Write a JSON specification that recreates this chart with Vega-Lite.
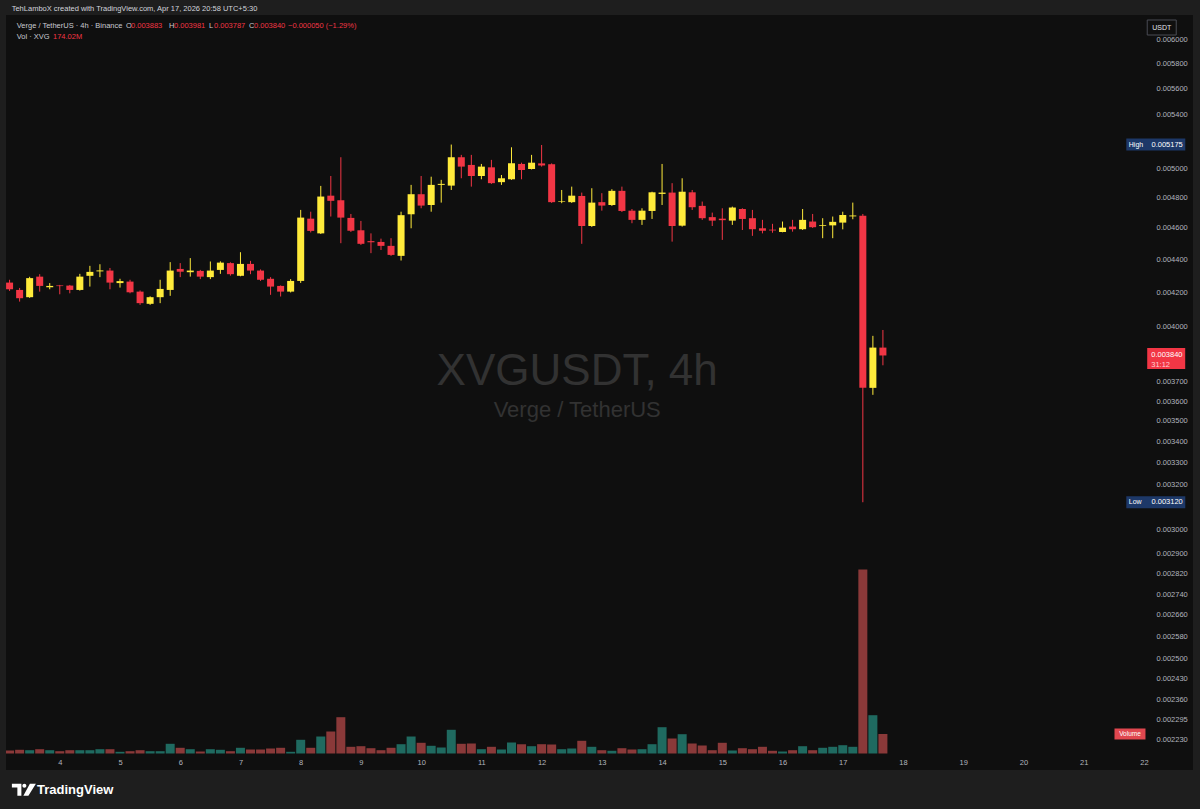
{
"$schema": "https://vega.github.io/schema/vega-lite/v6.json",
"width": 1187, "height": 755,
"autosize": {"type": "none"},
"padding": {"left": 6, "top": 15, "right": 7, "bottom": 39},
"background": "#1e1e1e",
"config": {"view": {"fill": "#0f0f0f", "stroke": null}, "font": "Liberation Sans", "text": {"font": "Liberation Sans"}},
"datasets": {
"candles": [
{"t":"2026-04-03T04:00:00Z","o":0.004257,"h":0.004274,"l":0.004207,"c":0.004217,"v":26.8},
{"t":"2026-04-03T08:00:00Z","o":0.004213,"h":0.004225,"l":0.004144,"c":0.004164,"v":33.0},
{"t":"2026-04-03T12:00:00Z","o":0.004170,"h":0.004292,"l":0.004166,"c":0.004284,"v":29.4},
{"t":"2026-04-03T16:00:00Z","o":0.004293,"h":0.004308,"l":0.004203,"c":0.004237,"v":38.4},
{"t":"2026-04-03T20:00:00Z","o":0.004229,"h":0.004254,"l":0.004217,"c":0.004237,"v":29.4},
{"t":"2026-04-04T00:00:00Z","o":0.004240,"h":0.004243,"l":0.004187,"c":0.004236,"v":20.5},
{"t":"2026-04-04T04:00:00Z","o":0.004239,"h":0.004243,"l":0.004193,"c":0.004213,"v":29.4},
{"t":"2026-04-04T08:00:00Z","o":0.004213,"h":0.004310,"l":0.004209,"c":0.004293,"v":29.4},
{"t":"2026-04-04T12:00:00Z","o":0.004298,"h":0.004359,"l":0.004233,"c":0.004322,"v":29.4},
{"t":"2026-04-04T16:00:00Z","o":0.004325,"h":0.004369,"l":0.004290,"c":0.004331,"v":38.4},
{"t":"2026-04-04T20:00:00Z","o":0.004330,"h":0.004346,"l":0.004217,"c":0.004257,"v":38.4},
{"t":"2026-04-05T00:00:00Z","o":0.004254,"h":0.004280,"l":0.004227,"c":0.004266,"v":15.2},
{"t":"2026-04-05T04:00:00Z","o":0.004263,"h":0.004274,"l":0.004193,"c":0.004199,"v":20.5},
{"t":"2026-04-05T08:00:00Z","o":0.004203,"h":0.004210,"l":0.004125,"c":0.004135,"v":29.4},
{"t":"2026-04-05T12:00:00Z","o":0.004131,"h":0.004175,"l":0.004125,"c":0.004170,"v":20.5},
{"t":"2026-04-05T16:00:00Z","o":0.004170,"h":0.004274,"l":0.004135,"c":0.004219,"v":20.5},
{"t":"2026-04-05T20:00:00Z","o":0.004213,"h":0.004382,"l":0.004178,"c":0.004330,"v":86.5},
{"t":"2026-04-06T00:00:00Z","o":0.004340,"h":0.004376,"l":0.004290,"c":0.004323,"v":50.8},
{"t":"2026-04-06T04:00:00Z","o":0.004320,"h":0.004407,"l":0.004293,"c":0.004330,"v":38.4},
{"t":"2026-04-06T08:00:00Z","o":0.004328,"h":0.004334,"l":0.004278,"c":0.004293,"v":17.8},
{"t":"2026-04-06T12:00:00Z","o":0.004290,"h":0.004386,"l":0.004278,"c":0.004330,"v":38.4},
{"t":"2026-04-06T16:00:00Z","o":0.004334,"h":0.004387,"l":0.004310,"c":0.004379,"v":33.0},
{"t":"2026-04-06T20:00:00Z","o":0.004376,"h":0.004381,"l":0.004299,"c":0.004308,"v":20.5},
{"t":"2026-04-07T00:00:00Z","o":0.004298,"h":0.004444,"l":0.004295,"c":0.004371,"v":50.8},
{"t":"2026-04-07T04:00:00Z","o":0.004371,"h":0.004390,"l":0.004308,"c":0.004330,"v":35.7},
{"t":"2026-04-07T08:00:00Z","o":0.004330,"h":0.004337,"l":0.004267,"c":0.004274,"v":35.7},
{"t":"2026-04-07T12:00:00Z","o":0.004280,"h":0.004290,"l":0.004184,"c":0.004233,"v":44.6},
{"t":"2026-04-07T16:00:00Z","o":0.004237,"h":0.004240,"l":0.004174,"c":0.004203,"v":50.8},
{"t":"2026-04-07T20:00:00Z","o":0.004203,"h":0.004278,"l":0.004198,"c":0.004267,"v":15.2},
{"t":"2026-04-08T00:00:00Z","o":0.004267,"h":0.004718,"l":0.004255,"c":0.004667,"v":122.2},
{"t":"2026-04-08T04:00:00Z","o":0.004660,"h":0.004706,"l":0.004570,"c":0.004580,"v":50.8},
{"t":"2026-04-08T08:00:00Z","o":0.004564,"h":0.004881,"l":0.004560,"c":0.004808,"v":151.6},
{"t":"2026-04-08T12:00:00Z","o":0.004814,"h":0.004950,"l":0.004674,"c":0.004779,"v":196.2},
{"t":"2026-04-08T16:00:00Z","o":0.004783,"h":0.005083,"l":0.004501,"c":0.004667,"v":323.8},
{"t":"2026-04-08T20:00:00Z","o":0.004665,"h":0.004691,"l":0.004573,"c":0.004581,"v":59.8},
{"t":"2026-04-09T00:00:00Z","o":0.004584,"h":0.004645,"l":0.004490,"c":0.004497,"v":65.1},
{"t":"2026-04-09T04:00:00Z","o":0.004514,"h":0.004564,"l":0.004438,"c":0.004507,"v":47.3},
{"t":"2026-04-09T08:00:00Z","o":0.004509,"h":0.004530,"l":0.004458,"c":0.004484,"v":29.4},
{"t":"2026-04-09T12:00:00Z","o":0.004484,"h":0.004533,"l":0.004421,"c":0.004427,"v":50.8},
{"t":"2026-04-09T16:00:00Z","o":0.004421,"h":0.004706,"l":0.004392,"c":0.004683,"v":83.0},
{"t":"2026-04-09T20:00:00Z","o":0.004689,"h":0.004888,"l":0.004597,"c":0.004824,"v":151.6},
{"t":"2026-04-10T00:00:00Z","o":0.004824,"h":0.004950,"l":0.004729,"c":0.004747,"v":95.4},
{"t":"2026-04-10T04:00:00Z","o":0.004751,"h":0.004945,"l":0.004706,"c":0.004888,"v":68.7},
{"t":"2026-04-10T08:00:00Z","o":0.004888,"h":0.004923,"l":0.004767,"c":0.004895,"v":53.5},
{"t":"2026-04-10T12:00:00Z","o":0.004883,"h":0.005175,"l":0.004853,"c":0.005083,"v":211.4},
{"t":"2026-04-10T16:00:00Z","o":0.005083,"h":0.005100,"l":0.004934,"c":0.005016,"v":86.5},
{"t":"2026-04-10T20:00:00Z","o":0.005028,"h":0.005100,"l":0.004876,"c":0.004950,"v":89.2},
{"t":"2026-04-11T00:00:00Z","o":0.004950,"h":0.005035,"l":0.004927,"c":0.005016,"v":38.4},
{"t":"2026-04-11T04:00:00Z","o":0.005011,"h":0.005064,"l":0.004895,"c":0.004900,"v":59.8},
{"t":"2026-04-11T08:00:00Z","o":0.004907,"h":0.004957,"l":0.004888,"c":0.004934,"v":35.7},
{"t":"2026-04-11T12:00:00Z","o":0.004927,"h":0.005155,"l":0.004923,"c":0.005040,"v":98.1},
{"t":"2026-04-11T16:00:00Z","o":0.005035,"h":0.005044,"l":0.004927,"c":0.004992,"v":83.0},
{"t":"2026-04-11T20:00:00Z","o":0.004999,"h":0.005100,"l":0.004996,"c":0.005044,"v":65.1},
{"t":"2026-04-12T00:00:00Z","o":0.005039,"h":0.005172,"l":0.005016,"c":0.005024,"v":83.0},
{"t":"2026-04-12T04:00:00Z","o":0.005033,"h":0.005039,"l":0.004765,"c":0.004770,"v":80.3},
{"t":"2026-04-12T08:00:00Z","o":0.004772,"h":0.004853,"l":0.004763,"c":0.004776,"v":38.4},
{"t":"2026-04-12T12:00:00Z","o":0.004770,"h":0.004876,"l":0.004765,"c":0.004814,"v":44.6},
{"t":"2026-04-12T16:00:00Z","o":0.004812,"h":0.004835,"l":0.004497,"c":0.004612,"v":113.3},
{"t":"2026-04-12T20:00:00Z","o":0.004612,"h":0.004865,"l":0.004606,"c":0.004767,"v":59.8},
{"t":"2026-04-13T00:00:00Z","o":0.004770,"h":0.004831,"l":0.004713,"c":0.004747,"v":29.4},
{"t":"2026-04-13T04:00:00Z","o":0.004751,"h":0.004858,"l":0.004745,"c":0.004847,"v":24.1},
{"t":"2026-04-13T08:00:00Z","o":0.004847,"h":0.004876,"l":0.004704,"c":0.004711,"v":47.3},
{"t":"2026-04-13T12:00:00Z","o":0.004713,"h":0.004724,"l":0.004630,"c":0.004652,"v":35.7},
{"t":"2026-04-13T16:00:00Z","o":0.004652,"h":0.004729,"l":0.004619,"c":0.004713,"v":38.4},
{"t":"2026-04-13T20:00:00Z","o":0.004711,"h":0.004841,"l":0.004658,"c":0.004837,"v":83.0},
{"t":"2026-04-14T00:00:00Z","o":0.004826,"h":0.005035,"l":0.004751,"c":0.004835,"v":234.6},
{"t":"2026-04-14T04:00:00Z","o":0.004835,"h":0.004900,"l":0.004511,"c":0.004612,"v":133.8},
{"t":"2026-04-14T08:00:00Z","o":0.004614,"h":0.004934,"l":0.004608,"c":0.004841,"v":172.2},
{"t":"2026-04-14T12:00:00Z","o":0.004837,"h":0.004853,"l":0.004718,"c":0.004736,"v":89.2},
{"t":"2026-04-14T16:00:00Z","o":0.004745,"h":0.004774,"l":0.004652,"c":0.004663,"v":71.4},
{"t":"2026-04-14T20:00:00Z","o":0.004670,"h":0.004700,"l":0.004612,"c":0.004647,"v":29.4},
{"t":"2026-04-15T00:00:00Z","o":0.004660,"h":0.004729,"l":0.004522,"c":0.004650,"v":95.4},
{"t":"2026-04-15T04:00:00Z","o":0.004647,"h":0.004740,"l":0.004619,"c":0.004734,"v":26.8},
{"t":"2026-04-15T08:00:00Z","o":0.004724,"h":0.004729,"l":0.004586,"c":0.004658,"v":47.3},
{"t":"2026-04-15T12:00:00Z","o":0.004663,"h":0.004718,"l":0.004548,"c":0.004591,"v":38.4},
{"t":"2026-04-15T16:00:00Z","o":0.004597,"h":0.004652,"l":0.004564,"c":0.004581,"v":59.8},
{"t":"2026-04-15T20:00:00Z","o":0.004588,"h":0.004626,"l":0.004568,"c":0.004583,"v":24.1},
{"t":"2026-04-16T00:00:00Z","o":0.004573,"h":0.004641,"l":0.004571,"c":0.004601,"v":17.8},
{"t":"2026-04-16T04:00:00Z","o":0.004608,"h":0.004652,"l":0.004575,"c":0.004591,"v":29.4},
{"t":"2026-04-16T08:00:00Z","o":0.004591,"h":0.004724,"l":0.004586,"c":0.004652,"v":65.1},
{"t":"2026-04-16T12:00:00Z","o":0.004641,"h":0.004691,"l":0.004599,"c":0.004604,"v":29.4},
{"t":"2026-04-16T16:00:00Z","o":0.004612,"h":0.004663,"l":0.004533,"c":0.004617,"v":50.8},
{"t":"2026-04-16T20:00:00Z","o":0.004616,"h":0.004674,"l":0.004533,"c":0.004639,"v":59.8},
{"t":"2026-04-17T00:00:00Z","o":0.004634,"h":0.004706,"l":0.004590,"c":0.004684,"v":74.0},
{"t":"2026-04-17T04:00:00Z","o":0.004675,"h":0.004767,"l":0.004656,"c":0.004681,"v":59.8},
{"t":"2026-04-17T08:00:00Z","o":0.004679,"h":0.004691,"l":0.003120,"c":0.003668,"v":1641.3},
{"t":"2026-04-17T12:00:00Z","o":0.003668,"h":0.003948,"l":0.003632,"c":0.003883,"v":341.6},
{"t":"2026-04-17T16:00:00Z","o":0.003883,"h":0.003981,"l":0.003787,"c":0.003840,"v":174.02}
]
},
"layer": [
{
"layer": [
{"data": {"name": "candles"}, "mark": {"type": "bar", "size": 9, "clip": true},
 "encoding": {
  "x": {"field": "t", "type": "temporal",
   "scale": {"type": "utc", "domain": [{"year":2026,"month":4,"date":3,"hours":4,"minutes":34,"utc":true},{"year":2026,"month":4,"date":22,"hours":17,"minutes":34,"utc":true}]},
   "axis": {"orient": "bottom", "offset": -17, "title": null, "grid": false, "ticks": false, "domain": false,
    "values": [{"year":2026,"month":4,"date":4,"utc":true},{"year":2026,"month":4,"date":5,"utc":true},{"year":2026,"month":4,"date":6,"utc":true},{"year":2026,"month":4,"date":7,"utc":true},{"year":2026,"month":4,"date":8,"utc":true},{"year":2026,"month":4,"date":9,"utc":true},{"year":2026,"month":4,"date":10,"utc":true},{"year":2026,"month":4,"date":11,"utc":true},{"year":2026,"month":4,"date":12,"utc":true},{"year":2026,"month":4,"date":13,"utc":true},{"year":2026,"month":4,"date":14,"utc":true},{"year":2026,"month":4,"date":15,"utc":true},{"year":2026,"month":4,"date":16,"utc":true},{"year":2026,"month":4,"date":17,"utc":true},{"year":2026,"month":4,"date":18,"utc":true},{"year":2026,"month":4,"date":19,"utc":true},{"year":2026,"month":4,"date":20,"utc":true},{"year":2026,"month":4,"date":21,"utc":true},{"year":2026,"month":4,"date":22,"utc":true}],
    "labelExpr": "utcFormat(datum.value, '%-d')", "labelColor": "#b2b5be", "labelFontSize": 7.5, "labelPadding": 5, "labelOverlap": false, "labelFlush": false, "labelFont": "Liberation Sans"}},
  "y": {"field": "v", "type": "quantitative", "scale": {"domain": [-147.2, 6587.6], "nice": false, "zero": false}, "axis": null},
  "y2": {"datum": 0},
  "color": {"condition": {"test": "datum.c >= datum.o", "value": "#1f6a60"}, "value": "#8a3939"}
 }},
{"data": {"values": [{"label": "Volume", "v": 174.02}]},
 "mark": {"type": "point", "shape": "M-1,-0.355H1V0.355H-1Z", "size": 961, "filled": true, "fill": "#e0474f", "opacity": 1, "strokeWidth": 0},
 "encoding": {"x": {"datum": {"year":2026,"month":4,"date":21,"hours":18,"minutes":27,"utc":true}, "type": "temporal"}, "y": {"field": "v", "type": "quantitative"}}},
{"data": {"values": [{"label": "Volume", "v": 174.02}]},
 "mark": {"type": "text", "fontSize": 6.5, "color": "#ffffff", "baseline": "middle"},
 "encoding": {"x": {"datum": {"year":2026,"month":4,"date":21,"hours":18,"minutes":27,"utc":true}, "type": "temporal"}, "y": {"field": "v", "type": "quantitative"}, "text": {"field": "label"}}}
]
},
{
"layer": [
{"data": {"values": [{"txt": "XVGUSDT, 4h", "p": 0.0037523}]},
 "mark": {"type": "text", "fontSize": 44, "color": "#323232", "baseline": "middle", "align": "center"},
 "encoding": {"x": {"datum": {"year":2026,"month":4,"date":12,"hours":14,"minutes":11,"utc":true}, "type": "temporal"}, "y": {"field": "p", "type": "quantitative"}, "text": {"field": "txt"}}},
{"data": {"values": [{"txt": "Verge / TetherUS", "p": 0.003556}]},
 "mark": {"type": "text", "fontSize": 22, "color": "#323232", "baseline": "middle", "align": "center"},
 "encoding": {"x": {"datum": {"year":2026,"month":4,"date":12,"hours":14,"minutes":11,"utc":true}, "type": "temporal"}, "y": {"field": "p", "type": "quantitative"}, "text": {"field": "txt"}}},
{"data": {"name": "candles"}, "mark": {"type": "rule", "strokeWidth": 1, "clip": true},
 "encoding": {
  "x": {"field": "t", "type": "temporal"},
  "y": {"field": "l", "type": "quantitative",
   "scale": {"type": "log", "domain": [0.0021362, 0.006216], "nice": false, "zero": false},
   "axis": {"orient": "right", "offset": -38, "title": null, "grid": false, "ticks": false, "domain": false,
    "values": [0.006, 0.0058, 0.0056, 0.0054, 0.005, 0.0048, 0.0046, 0.0044, 0.0042, 0.004, 0.0037, 0.0036, 0.0035, 0.0034, 0.0033, 0.0032, 0.003, 0.0029, 0.00282, 0.00274, 0.00266, 0.00258, 0.0025, 0.00243, 0.00236, 0.002295, 0.00223],
    "format": ".6f", "labelColor": "#b2b5be", "labelFontSize": 7.5, "labelPadding": 1, "labelAlign": "left", "labelBaseline": "middle", "labelOverlap": false, "labelFlush": false, "labelFont": "Liberation Sans"}},
  "y2": {"field": "h"},
  "color": {"condition": {"test": "datum.c >= datum.o", "value": "#ffeb3b"}, "value": "#f23645"}
 }},
{"data": {"name": "candles"}, "mark": {"type": "bar", "size": 7, "clip": true},
 "encoding": {
  "x": {"field": "t", "type": "temporal"},
  "y": {"field": "o", "type": "quantitative"},
  "y2": {"field": "c"},
  "color": {"condition": {"test": "datum.c >= datum.o", "value": "#ffeb3b"}, "value": "#f23645"}
 }},
{"data": {"values": [{"name": "High", "p": 0.005175}, {"name": "Low", "p": 0.00312}]},
 "mark": {"type": "point", "shape": "M-1,-0.203H1V0.203H-1Z", "size": 3481, "filled": true, "fill": "#1d3868", "opacity": 1, "strokeWidth": 0},
 "encoding": {"x": {"datum": {"year":2026,"month":4,"date":22,"hours":4,"minutes":44,"utc":true}, "type": "temporal"}, "y": {"field": "p", "type": "quantitative"}}},
{"data": {"values": [{"name": "High", "p": 0.005175}, {"name": "Low", "p": 0.00312}]},
 "mark": {"type": "text", "fontSize": 7, "color": "#ffffff", "align": "left", "baseline": "middle", "dx": -27},
 "encoding": {"x": {"datum": {"year":2026,"month":4,"date":22,"hours":4,"minutes":44,"utc":true}, "type": "temporal"}, "y": {"field": "p", "type": "quantitative"}, "text": {"field": "name"}}},
{"data": {"values": [{"name": "High", "p": 0.005175}, {"name": "Low", "p": 0.00312}]},
 "mark": {"type": "text", "fontSize": 7.5, "color": "#ffffff", "align": "right", "baseline": "middle", "dx": 27},
 "encoding": {"x": {"datum": {"year":2026,"month":4,"date":22,"hours":4,"minutes":44,"utc":true}, "type": "temporal"}, "y": {"field": "p", "type": "quantitative"}, "text": {"field": "p", "format": ".6f"}}},
{"data": {"values": [{"p": 0.00384}]},
 "mark": {"type": "point", "shape": "M-1,-0.395H1V0.711H-1Z", "size": 1444, "filled": true, "fill": "#f23645", "opacity": 1, "strokeWidth": 0},
 "encoding": {"x": {"datum": {"year":2026,"month":4,"date":22,"hours":8,"minutes":53,"utc":true}, "type": "temporal"}, "y": {"field": "p", "type": "quantitative"}}},
{"data": {"values": [{"p": 0.00384}]},
 "mark": {"type": "text", "fontSize": 7.5, "color": "#ffffff", "align": "left", "baseline": "middle", "dx": -15},
 "encoding": {"x": {"datum": {"year":2026,"month":4,"date":22,"hours":8,"minutes":53,"utc":true}, "type": "temporal"}, "y": {"field": "p", "type": "quantitative"}, "text": {"field": "p", "format": ".6f"}}},
{"data": {"values": [{"p": 0.00384, "cd": "31:12"}]},
 "mark": {"type": "text", "fontSize": 7.5, "color": "#ffd0d3", "align": "left", "baseline": "middle", "dx": -15, "dy": 9.5},
 "encoding": {"x": {"datum": {"year":2026,"month":4,"date":22,"hours":8,"minutes":53,"utc":true}, "type": "temporal"}, "y": {"field": "p", "type": "quantitative"}, "text": {"field": "cd"}}},
{"data": {"values": [{"p": 0.006107, "u": "USDT"}]},
 "mark": {"type": "point", "shape": "M-0.967,-0.5H0.967V0.5H-0.967Z", "size": 900, "filled": true, "fill": "#0f0f0f", "stroke": "#4a4c55", "strokeWidth": 1, "opacity": 1},
 "encoding": {"x": {"datum": {"year":2026,"month":4,"date":22,"hours":7,"minutes":6,"utc":true}, "type": "temporal"}, "y": {"field": "p", "type": "quantitative"}}},
{"data": {"values": [{"p": 0.006107, "u": "USDT"}]},
 "mark": {"type": "text", "fontSize": 7, "color": "#e0e3eb", "align": "center", "baseline": "middle"},
 "encoding": {"x": {"datum": {"year":2026,"month":4,"date":22,"hours":7,"minutes":6,"utc":true}, "type": "temporal"}, "y": {"field": "p", "type": "quantitative"}, "text": {"field": "u"}}},
{"data": {"values": [{"s": "TehLamboX created with TradingView.com, Apr 17, 2026 20:58 UTC+5:30"}]},
 "mark": {"type": "text", "fontSize": 7.5, "color": "#d1d4dc", "align": "left", "baseline": "middle", "dx": 0.7, "dy": -6},
 "encoding": {"x": {"datum": {"year":2026,"month":4,"date":3,"hours":4,"minutes":34,"utc":true}, "type": "temporal"}, "y": {"datum": 0.006216, "type": "quantitative"}, "text": {"field": "s"}}},
{"data": {"values": [{"s": "Verge / TetherUS · 4h · Binance"}]},
 "mark": {"type": "text", "fontSize": 7.5, "color": "#c8cad1", "align": "left", "baseline": "middle", "dx": 5.7, "dy": 11},
 "encoding": {"x": {"datum": {"year":2026,"month":4,"date":3,"hours":4,"minutes":34,"utc":true}, "type": "temporal"}, "y": {"datum": 0.006216, "type": "quantitative"}, "text": {"field": "s"}}},
{"data": {"values": [{"s": "O"}]},
 "mark": {"type": "text", "fontSize": 7.5, "color": "#c8cad1", "align": "left", "baseline": "middle", "dx": 115, "dy": 11},
 "encoding": {"x": {"datum": {"year":2026,"month":4,"date":3,"hours":4,"minutes":34,"utc":true}, "type": "temporal"}, "y": {"datum": 0.006216, "type": "quantitative"}, "text": {"field": "s"}}},
{"data": {"values": [{"s": "0.003883"}]},
 "mark": {"type": "text", "fontSize": 7.5, "color": "#f23645", "align": "left", "baseline": "middle", "dx": 120, "dy": 11},
 "encoding": {"x": {"datum": {"year":2026,"month":4,"date":3,"hours":4,"minutes":34,"utc":true}, "type": "temporal"}, "y": {"datum": 0.006216, "type": "quantitative"}, "text": {"field": "s"}}},
{"data": {"values": [{"s": "H"}]},
 "mark": {"type": "text", "fontSize": 7.5, "color": "#c8cad1", "align": "left", "baseline": "middle", "dx": 158, "dy": 11},
 "encoding": {"x": {"datum": {"year":2026,"month":4,"date":3,"hours":4,"minutes":34,"utc":true}, "type": "temporal"}, "y": {"datum": 0.006216, "type": "quantitative"}, "text": {"field": "s"}}},
{"data": {"values": [{"s": "0.003981"}]},
 "mark": {"type": "text", "fontSize": 7.5, "color": "#f23645", "align": "left", "baseline": "middle", "dx": 163, "dy": 11},
 "encoding": {"x": {"datum": {"year":2026,"month":4,"date":3,"hours":4,"minutes":34,"utc":true}, "type": "temporal"}, "y": {"datum": 0.006216, "type": "quantitative"}, "text": {"field": "s"}}},
{"data": {"values": [{"s": "L"}]},
 "mark": {"type": "text", "fontSize": 7.5, "color": "#c8cad1", "align": "left", "baseline": "middle", "dx": 198, "dy": 11},
 "encoding": {"x": {"datum": {"year":2026,"month":4,"date":3,"hours":4,"minutes":34,"utc":true}, "type": "temporal"}, "y": {"datum": 0.006216, "type": "quantitative"}, "text": {"field": "s"}}},
{"data": {"values": [{"s": "0.003787"}]},
 "mark": {"type": "text", "fontSize": 7.5, "color": "#f23645", "align": "left", "baseline": "middle", "dx": 203, "dy": 11},
 "encoding": {"x": {"datum": {"year":2026,"month":4,"date":3,"hours":4,"minutes":34,"utc":true}, "type": "temporal"}, "y": {"datum": 0.006216, "type": "quantitative"}, "text": {"field": "s"}}},
{"data": {"values": [{"s": "C"}]},
 "mark": {"type": "text", "fontSize": 7.5, "color": "#c8cad1", "align": "left", "baseline": "middle", "dx": 238, "dy": 11},
 "encoding": {"x": {"datum": {"year":2026,"month":4,"date":3,"hours":4,"minutes":34,"utc":true}, "type": "temporal"}, "y": {"datum": 0.006216, "type": "quantitative"}, "text": {"field": "s"}}},
{"data": {"values": [{"s": "0.003840"}]},
 "mark": {"type": "text", "fontSize": 7.5, "color": "#f23645", "align": "left", "baseline": "middle", "dx": 243, "dy": 11},
 "encoding": {"x": {"datum": {"year":2026,"month":4,"date":3,"hours":4,"minutes":34,"utc":true}, "type": "temporal"}, "y": {"datum": 0.006216, "type": "quantitative"}, "text": {"field": "s"}}},
{"data": {"values": [{"s": "−0.000050 (−1.29%)"}]},
 "mark": {"type": "text", "fontSize": 7.5, "color": "#f23645", "align": "left", "baseline": "middle", "dx": 277, "dy": 11},
 "encoding": {"x": {"datum": {"year":2026,"month":4,"date":3,"hours":4,"minutes":34,"utc":true}, "type": "temporal"}, "y": {"datum": 0.006216, "type": "quantitative"}, "text": {"field": "s"}}},
{"data": {"values": [{"s": "Vol · XVG"}]},
 "mark": {"type": "text", "fontSize": 7.5, "color": "#c8cad1", "align": "left", "baseline": "middle", "dx": 5.7, "dy": 22},
 "encoding": {"x": {"datum": {"year":2026,"month":4,"date":3,"hours":4,"minutes":34,"utc":true}, "type": "temporal"}, "y": {"datum": 0.006216, "type": "quantitative"}, "text": {"field": "s"}}},
{"data": {"values": [{"s": "174.02M"}]},
 "mark": {"type": "text", "fontSize": 7.5, "color": "#f23645", "align": "left", "baseline": "middle", "dx": 42, "dy": 22},
 "encoding": {"x": {"datum": {"year":2026,"month":4,"date":3,"hours":4,"minutes":34,"utc":true}, "type": "temporal"}, "y": {"datum": 0.006216, "type": "quantitative"}, "text": {"field": "s"}}},
{"data": {"values": [{"s": "logo"}]},
 "mark": {"type": "point", "shape": "M-1,-0.5H-0.208V0.5H-0.542V-0.167H-1Z M-0.125,-0.333A0.167,0.167 0 1,0 0.209,-0.333A0.167,0.167 0 1,0 -0.125,-0.333Z M0.5,-0.5H1L0.375,0.5H-0.042Z", "size": 576, "filled": true, "fill": "#ffffff", "opacity": 1, "strokeWidth": 0},
 "encoding": {"x": {"datum": {"year":2026,"month":4,"date":3,"hours":9,"minutes":42,"utc":true}, "type": "temporal"}, "y": {"datum": 0.0020777, "type": "quantitative"}}},
{"data": {"values": [{"s": "TradingView"}]},
 "mark": {"type": "text", "fontSize": 13, "fontWeight": "bold", "color": "#ffffff", "align": "left", "baseline": "middle", "dx": 26, "dy": 20},
 "encoding": {"x": {"datum": {"year":2026,"month":4,"date":3,"hours":4,"minutes":34,"utc":true}, "type": "temporal"}, "y": {"datum": 0.0021362, "type": "quantitative"}, "text": {"field": "s"}}}
]
}
],
"resolve": {"scale": {"y": "independent"}}
}
